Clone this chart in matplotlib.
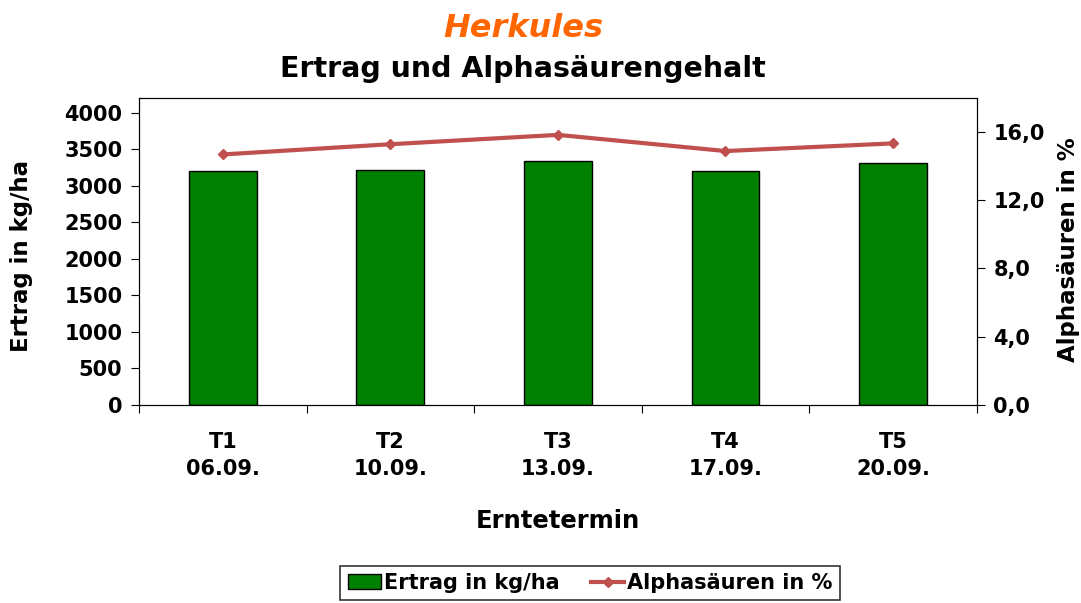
import matplotlib.pyplot as plt
import numpy as np

# data
termine = ['T1\n06.09.', 'T2\n10.09.', 'T3\n13.09.', 'T4\n17.09.', 'T5\n20.09.']
ertrag = [3205, 3219, 3338, 3205, 3307]
alpha = [14.7, 15.3, 15.85, 14.9, 15.35]

plt.rcParams['font.family'] = 'DejaVu Sans'
plt.rcParams['font.weight'] = 'bold'

fig = plt.figure(figsize=(10.81, 6.03), dpi=100)
ax = fig.add_axes([0.1286, 0.329, 0.775, 0.508])
x = np.arange(len(termine)) + 0.5

bars = ax.bar(x, ertrag, width=0.405, color='#008000', edgecolor='black', linewidth=1, label='Ertrag in kg/ha')
ax.set_xlim(0, 5)
ax.set_ylim(0, 4200)
ax.set_yticks(np.arange(0, 4001, 500))
ax.set_xticks(np.arange(0, 6), minor=False)
ax.set_xticklabels([])
ax.set_xticks(x, minor=True)
ax.set_xticklabels(termine, minor=True, fontsize=15, fontweight='bold', linespacing=1.4)
ax.tick_params(axis='x', which='minor', length=0, pad=20)
ax.tick_params(axis='x', which='major', length=6, direction='out')
ax.tick_params(axis='y', labelsize=15, length=6, direction='out', pad=6)
for lab in ax.get_yticklabels():
    lab.set_fontweight('bold')
ax.set_ylabel('Ertrag in kg/ha', fontsize=16.5, fontweight='bold')
ax.yaxis.set_label_coords(-0.126, 0.485)
ax.set_xlabel('Erntetermin', fontsize=17.5, fontweight='bold', labelpad=22)

ax2 = ax.twinx()
line, = ax2.plot(x, alpha, color='#C0504D', linewidth=3, marker='D', markersize=5, label='Alphasäuren in %')
ax2.set_ylim(0, 18)
ax2.set_yticks(np.arange(0, 17, 4))
ax2.set_yticklabels([f'{v:.1f}'.replace('.', ',') for v in np.arange(0, 17, 4)])
ax2.tick_params(axis='y', labelsize=15, length=6, direction='out', pad=6)
for lab in ax2.get_yticklabels():
    lab.set_fontweight('bold')
ax2.set_ylabel('Alphasäuren in %', fontsize=16.5, fontweight='bold')
ax2.yaxis.set_label_coords(1.096, 0.505)

fig.text(0.484, 0.953, 'Herkules', color='#FF6600', fontsize=23, fontweight='bold',
         style='italic', ha='center', va='center')
fig.text(0.484, 0.886, 'Ertrag und Alphasäurengehalt', color='black', fontsize=20.5,
         fontweight='bold', ha='center', va='center')

leg = fig.legend([bars, line], ['Ertrag in kg/ha', 'Alphasäuren in %'], loc='upper center',
                 bbox_to_anchor=(0.546, 0.062), ncol=2, frameon=True, fancybox=False,
                 edgecolor='black', prop={'weight': 'bold', 'size': 15}, borderaxespad=0,
                 handlelength=1.6, handletextpad=0.15, columnspacing=1.5, borderpad=0.35)
leg.get_frame().set_linewidth(1.2)

plt.savefig('out.png', dpi=100)
